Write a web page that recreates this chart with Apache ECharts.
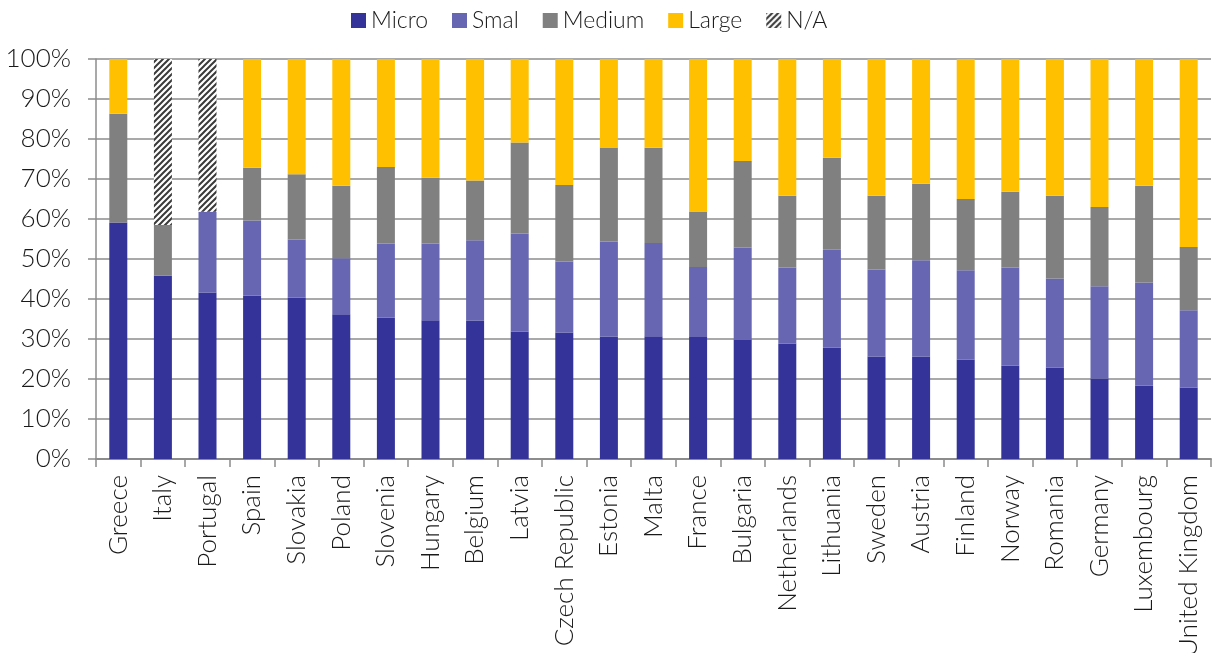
<!DOCTYPE html>
<html>
<head>
<meta charset="utf-8">
<script src="https://cdn.jsdelivr.net/npm/echarts@6/dist/echarts.min.js"></script>
<style>
html,body{margin:0;padding:0;background:#fff;}
#chart{width:1212px;height:653px;}
</style>
</head>
<body>
<div id="chart"></div>
<script>
const categories = ["Greece","Italy","Portugal","Spain","Slovakia","Poland","Slovenia","Hungary","Belgium","Latvia","Czech Republic","Estonia","Malta","France","Bulgaria","Netherlands","Lithuania","Sweden","Austria","Finland","Norway","Romania","Germany","Luxembourg","United Kingdom"];
const micro  = [59.1,45.9,41.6,40.8,40.3,36.2,35.3,34.7,34.6,31.9,31.6,30.6,30.7,30.5,29.9,28.9,27.8,25.6,25.6,24.9,23.3,22.9,20.1,18.3,17.9];
const small  = [0,0,20.2,18.8,14.6,14.0,18.6,19.2,20.1,24.5,17.8,23.8,23.3,17.5,23.0,19.0,24.5,21.8,24.1,22.3,24.6,22.2,23.1,25.8,19.3];
const medium = [27.2,12.6,0,13.2,16.3,18.1,19.1,16.4,14.9,22.7,19.1,23.5,23.8,13.9,21.6,17.9,23.0,18.4,19.1,17.8,18.9,20.7,19.8,24.2,15.8];
const large  = [13.7,0,0,27.2,28.8,31.7,27.0,29.7,30.4,20.9,31.5,22.1,22.2,38.1,25.5,34.2,24.7,34.2,31.2,35.0,33.2,34.2,37.0,31.7,47.0];
const na     = [0,41.5,38.2,0,0,0,0,0,0,0,0,0,0,0,0,0,0,0,0,0,0,0,0,0,0];
const seriesNames = ["Micro","Smal","Medium","Large","N/A"];

// hatch pattern
const pc = document.createElement('canvas');
pc.width = 6; pc.height = 6;
const ctx = pc.getContext('2d');
ctx.fillStyle = '#ffffff'; ctx.fillRect(0,0,6,6);
ctx.strokeStyle = '#3a3a3a'; ctx.lineWidth = 2;
ctx.beginPath();
ctx.moveTo(-1,7); ctx.lineTo(7,-1);
ctx.moveTo(-4,4); ctx.lineTo(4,-4);
ctx.moveTo(2,10); ctx.lineTo(10,2);
ctx.stroke();
const hatch = {image: pc, repeat: 'repeat'};

const colors = ['#333399','#6666B2','#808080','#FFC000',hatch];
const dataSets = [micro, small, medium, large, na];
const FONT = 'Lato';
const W = 300;
const chart = echarts.init(document.getElementById('chart'), null, {renderer:'canvas'});
chart.setOption({
  animation:false,
  textStyle:{fontFamily:FONT,color:'#1a1a1a',fontWeight:W},
  legend:{
    top:4, left:346,
    icon:'rect',
    itemWidth:15, itemHeight:15, itemGap:24,
    textStyle:{fontSize:23,color:'#1a1a1a',fontFamily:FONT,fontWeight:W},
    data: seriesNames
  },
  grid:{left:96,right:1,top:59,bottom:194,containLabel:false,outerBoundsMode:'none'},
  xAxis:{
    type:'category', data:categories,
    axisLine:{lineStyle:{color:'#8c8c8c',width:2}},
    axisTick:{show:true,length:8,alignWithLabel:false,lineStyle:{color:'#8c8c8c',width:1.5}},
    axisLabel:{rotate:90,fontSize:26,color:'#1a1a1a',margin:16,interval:0,fontFamily:FONT,fontWeight:W}
  },
  yAxis:{
    type:'value',min:0,max:100,interval:10,
    axisLine:{show:true,lineStyle:{color:'#8c8c8c',width:1.5}},
    axisTick:{show:true,length:8,lineStyle:{color:'#8c8c8c',width:1.5}},
    splitLine:{show:true,lineStyle:{color:'#8c8c8c',width:1.5}},
    axisLabel:{formatter:'{value}%',fontSize:26,color:'#1a1a1a',margin:25,fontFamily:FONT,fontWeight:W}
  },
  series: seriesNames.map((n,i)=>({
    name:n, type:'bar', stack:'total', barWidth:18,
    itemStyle:{color:colors[i]},
    data: dataSets[i]
  }))
});
</script>
</body>
</html>
